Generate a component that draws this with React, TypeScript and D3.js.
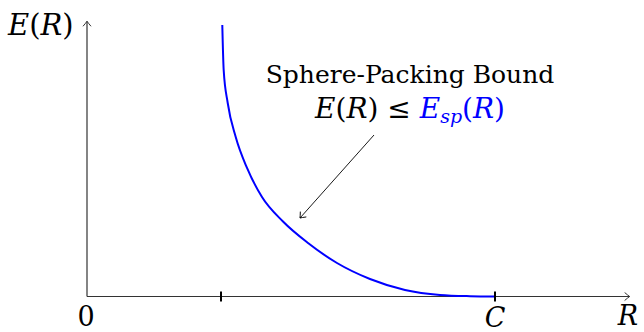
import React from "react";
import * as d3 from "d3";

// Sphere-packing error exponent curve, E(R) against rate R
const rateValues = [0.3316, 0.335, 0.3449, 0.3645, 0.3922, 0.4289, 0.4804, 0.5417, 0.6127, 0.6936, 0.7794, 0.8652, 0.9387, 1.0];
const exponentValues = [0.9963, 0.8312, 0.7101, 0.5853, 0.4716, 0.3651, 0.2752, 0.1963, 0.1229, 0.0642, 0.0239, 0.0055, 0.0011, 0.0];
const criticalRate = 0.3284;
const capacity = 1.0;
const xTickLabels = ["0", "C", "R"];

const W = 644;
const H = 332;

export default function App() {
  const x = d3.scaleLinear().domain([0, 1]).range([87, 495]);
  const y = d3.scaleLinear().domain([0, 1]).range([296.5, 24]);

  const pts: [number, number][] = rateValues.map((r, i) => [r, exponentValues[i]]);
  const line = d3
    .line<[number, number]>()
    .x((d) => x(d[0]))
    .y((d) => y(d[1]))
    .curve(d3.curveMonotoneX);

  const axisColor = "#333";
  const textStyle = { fontFamily: "'DejaVu Serif', serif" };
  const x0 = x(0);
  const y0 = y(0);
  const xEnd = x(1.33);
  const yEnd = y(1.01);

  return (
    <svg
      width={W}
      height={H}
      style={{ position: "absolute", left: 0, top: 0, background: "#fff" }}
    >
      <defs>
        <marker id="tip" viewBox="-6 -5 8 10" refX={0} refY={0} markerWidth={8} markerHeight={10} markerUnits="userSpaceOnUse" orient="auto">
          <path d="M-5,-4 Q-1.5,-1 0,0 Q-1.5,1 -5,4" fill="none" stroke={axisColor} strokeWidth={1} />
        </marker>
        <marker id="tipk" viewBox="-6 -5 8 10" refX={0} refY={0} markerWidth={8} markerHeight={10} markerUnits="userSpaceOnUse" orient="auto">
          <path d="M-5,-4 Q-1.5,-1 0,0 Q-1.5,1 -5,4" fill="none" stroke="#000" strokeWidth={0.9} />
        </marker>
      </defs>

      {/* axes */}
      <line x1={x0} y1={y0} x2={xEnd} y2={y0} stroke={axisColor} strokeWidth={1.2} markerEnd="url(#tip)" />
      <line x1={x0} y1={y0} x2={x0} y2={yEnd} stroke={axisColor} strokeWidth={1.2} markerEnd="url(#tip)" />

      {/* curve */}
      <path d={line(pts) || ""} fill="none" stroke="#0000ff" strokeWidth={2} />

      {/* ticks */}
      {[criticalRate, capacity].map((r, i) => (
        <line key={i} x1={x(r)} x2={x(r)} y1={y0 - 5} y2={y0 + 5} stroke="#000" strokeWidth={2} />
      ))}

      {/* axis labels */}
      <text style={textStyle} x={x0 - 1} y={326} fontSize={27} textAnchor="middle">{xTickLabels[0]}</text>
      <text style={textStyle} x={x(capacity)} y={327} fontSize={27} textAnchor="middle" fontStyle="italic">{xTickLabels[1]}</text>
      <text style={textStyle} x={628} y={325} fontSize={27} textAnchor="middle" fontStyle="italic">{xTickLabels[2]}</text>
      <text style={textStyle} x={8} y={35} fontSize={29}>
        <tspan fontStyle="italic">E</tspan>(<tspan fontStyle="italic">R</tspan>)
      </text>

      {/* annotation */}
      <text style={textStyle} x={410} y={83} fontSize={25} textAnchor="middle">Sphere-Packing Bound</text>
      <text style={textStyle} x={410} y={118} fontSize={28} textAnchor="middle">
        <tspan fontStyle="italic">E</tspan>(<tspan fontStyle="italic">R</tspan>) ≤{" "}
        <tspan fill="#0000ff">
          <tspan fontStyle="italic">E</tspan>
          <tspan fontStyle="italic" fontSize={19} dy={5}>sp</tspan>
          <tspan dy={-5}>(</tspan>
          <tspan fontStyle="italic">R</tspan>)
        </tspan>
      </text>
      <line x1={374} y1={135} x2={300} y2={218} stroke="#000" strokeWidth={0.9} markerEnd="url(#tipk)" />
    </svg>
  );
}
